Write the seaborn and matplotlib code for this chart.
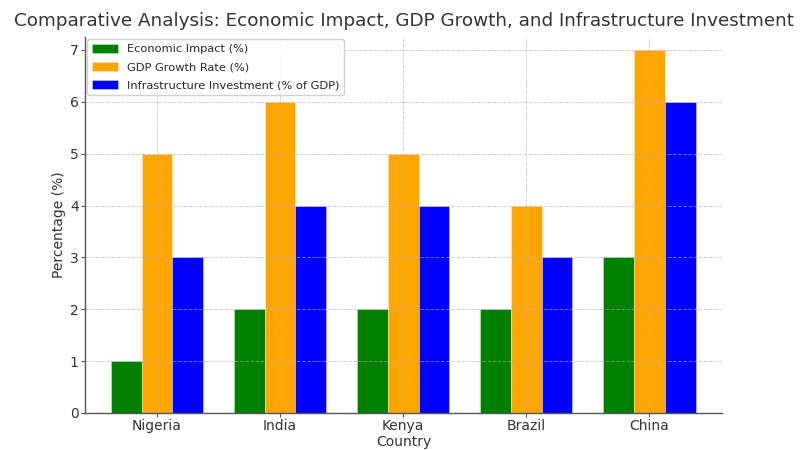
import matplotlib
matplotlib.use("Agg")
import matplotlib.pyplot as plt
import seaborn as sns
import pandas as pd

countries = ["Nigeria", "India", "Kenya", "Brazil", "China"]
economic_impact = [1, 2, 2, 2, 3]
gdp_growth = [5, 6, 5, 4, 7]
infra_invest = [3, 4, 4, 3, 6]
series_names = ["Economic Impact (%)", "GDP Growth Rate (%)", "Infrastructure Investment (% of GDP)"]
colors = ["green", "orange", "blue"]

rows = []
for name, vals in zip(series_names, [economic_impact, gdp_growth, infra_invest]):
    for c, v in zip(countries, vals):
        rows.append({"Country": c, "Series": name, "Value": v})
df = pd.DataFrame(rows)

sns.set_style("white")
plt.rcParams['font.family'] = ['DejaVu Sans']

fig = plt.figure(figsize=(8.02, 4.5), dpi=100)
ax = fig.add_axes([85/802, 1 - 413/450, (722-85)/802, (413-37)/450])

sns.barplot(data=df, x="Country", y="Value", hue="Series", palette=colors,
            width=0.75, linewidth=0.5, edgecolor=(1, 1, 1, 0.5), saturation=1, ax=ax, errorbar=None)

ax.set_ylim(0, 7.25)
ax.set_xlim(-0.585, 4.59)
ax.set_title("Comparative Analysis: Economic Impact, GDP Growth, and Infrastructure Investment",
             fontsize=13.2, color="#333333", pad=8)
ax.set_xlabel("Country", fontsize=10, color="#333333", labelpad=1)
ax.set_ylabel("Percentage (%)", fontsize=10, color="#333333", labelpad=3)
ax.tick_params(axis="both", labelsize=10, colors="#333333", length=3, width=0.8,
               pad=1.5, color="#555555", left=True, bottom=True)
ax.grid(True, linestyle="--", color="#b0b0b0", linewidth=0.7, alpha=0.6)
ax.set_axisbelow(False)
for s in ["top", "right"]:
    ax.spines[s].set_visible(False)
for s in ["left", "bottom"]:
    ax.spines[s].set_color("#555555")
    ax.spines[s].set_linewidth(1)

leg = ax.legend(loc="upper left", fontsize=8.2, frameon=True, title=None, framealpha=0.9,
                borderaxespad=0.2, labelspacing=0.7, handlelength=2.3, handleheight=0.8)
leg.get_frame().set_edgecolor("#cccccc")

fig.savefig("out.png", dpi=100)
